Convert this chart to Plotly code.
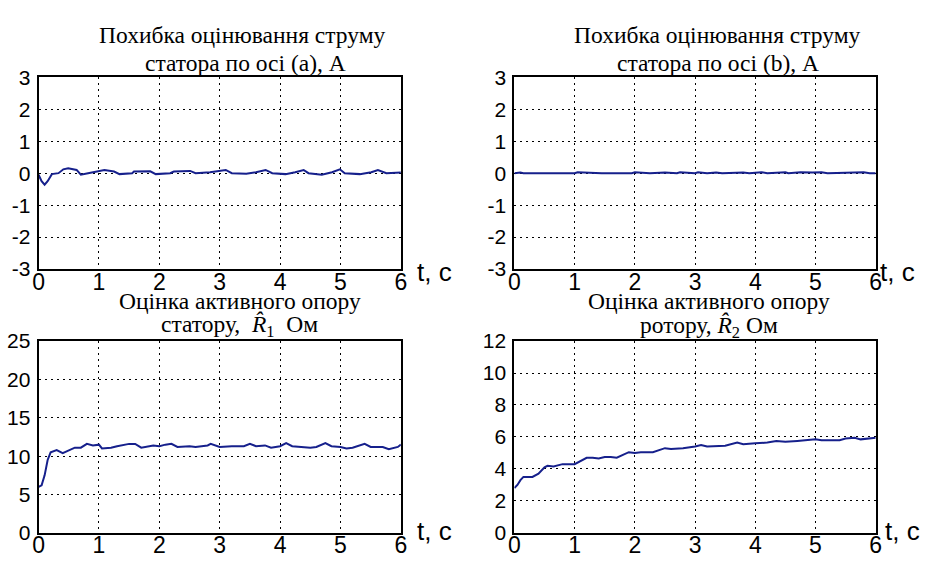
import plotly.graph_objects as go

# ---- data ----
t_a = [0, 0.05, 0.1, 0.15, 0.22, 0.33, 0.41, 0.49, 0.63, 0.7, 0.82, 0.98, 1.09, 1.25, 1.34,
       1.55, 1.58, 1.85, 1.94, 2.18, 2.24, 2.51, 2.6, 2.84, 3.1, 3.2, 3.44, 3.6, 3.76, 3.87,
       4.09, 4.25, 4.39, 4.47, 4.69, 4.86, 4.99, 5.07, 5.32, 5.51, 5.62, 5.76, 5.98, 6.0]
err_a = [-0.05, -0.25, -0.36, -0.25, -0.03, 0.0, 0.12, 0.15, 0.1, -0.05, 0.0, 0.07, 0.1, 0.05, -0.03,
         0.0, 0.05, 0.06, -0.03, 0.0, 0.05, 0.07, 0.0, 0.03, 0.1, 0.0, -0.02, 0.03, 0.1, 0.0,
         -0.03, 0.03, 0.1, 0.0, -0.05, 0.03, 0.12, 0.0, -0.03, 0.03, 0.1, 0.0, 0.02, 0.02]

t_b = [0, 0.1, 0.15, 0.7, 0.75, 1.0, 1.05, 1.2, 1.3, 1.45, 1.95, 2.0, 2.25, 2.5, 2.7, 2.75,
       3.0, 3.05, 3.2, 3.35, 3.45, 3.7, 3.8, 3.9, 4.1, 4.2, 4.5, 4.55, 4.75, 4.95, 5.1, 5.2, 5.8, 5.9, 6.0]
err_b = [0.0, 0.02, 0.0, 0.0, 0.02, 0.0, 0.03, 0.02, 0.03, 0.0, 0.0, 0.03, 0.0, 0.02, 0.0, 0.03,
         0.0, 0.03, 0.0, 0.02, 0.0, 0.03, 0.02, 0.0, 0.03, 0.0, 0.03, 0.0, 0.03, 0.02, 0.03, 0.0, 0.03, 0.0, 0.0]

t_r1 = [0, 0.05, 0.1, 0.15, 0.2, 0.3, 0.4, 0.5, 0.6, 0.7, 0.8, 0.9, 1.0, 1.05, 1.2, 1.3, 1.5, 1.6,
        1.7, 1.9, 2.0, 2.1, 2.2, 2.3, 2.5, 2.6, 2.8, 2.85, 3.0, 3.2, 3.4, 3.5, 3.6, 3.75, 3.85,
        4.0, 4.1, 4.2, 4.5, 4.6, 4.75, 4.85, 5.0, 5.1, 5.2, 5.4, 5.5, 5.7, 5.8, 5.95, 6.0]
r1_hat = [6.0, 6.2, 7.5, 9.5, 10.5, 10.8, 10.4, 10.8, 11.1, 11.1, 11.6, 11.4, 11.5, 11.0, 11.1, 11.3,
          11.6, 11.6, 11.1, 11.4, 11.3, 11.5, 11.6, 11.2, 11.3, 11.2, 11.4, 11.6, 11.2, 11.3, 11.3,
          11.6, 11.3, 11.4, 11.1, 11.3, 11.7, 11.3, 11.1, 11.2, 11.7, 11.3, 11.2, 11.0, 11.1, 11.6,
          11.2, 11.2, 10.9, 11.2, 11.5]

t_r2 = [0, 0.05, 0.1, 0.15, 0.3, 0.4, 0.5, 0.55, 0.65, 0.8, 1.0, 1.1, 1.2, 1.3, 1.4, 1.5, 1.6, 1.7,
        1.8, 1.9, 2.0, 2.1, 2.3, 2.4, 2.5, 2.6, 2.8, 3.0, 3.1, 3.2, 3.5, 3.7, 3.8, 4.0, 4.2, 4.35,
        4.5, 4.7, 4.85, 5.0, 5.1, 5.4, 5.5, 5.65, 5.75, 5.85, 6.0]
r2_hat = [2.8, 3.0, 3.3, 3.5, 3.5, 3.7, 4.1, 4.2, 4.15, 4.3, 4.3, 4.5, 4.7, 4.7, 4.65, 4.75, 4.75,
          4.7, 4.9, 5.05, 5.0, 5.05, 5.05, 5.2, 5.3, 5.25, 5.3, 5.4, 5.5, 5.4, 5.45, 5.65, 5.55,
          5.6, 5.65, 5.75, 5.7, 5.75, 5.8, 5.85, 5.8, 5.8, 5.9, 5.95, 5.85, 5.9, 5.95]

x_ticks = [0, 1, 2, 3, 4, 5, 6]
y_ticks_err = [-3, -2, -1, 0, 1, 2, 3]
y_labels_err = ["-3", "-2", "-1", "0", "1", "2", "3"]
y_ticks_r1 = [0, 5, 10, 15, 20, 25]
y_ticks_r2 = [0, 2, 4, 6, 8, 10, 12]

W, H = 936, 565
LINE = "#16208c"
SERIF = "Liberation Serif, Times New Roman, serif"
SANS = "Liberation Sans, Arial, sans-serif"

# panel pixel boxes (left, right, top, bottom)
boxes = [(33, 400, 68, 268), (515, 881, 68, 268), (33, 400, 343, 543), (515, 881, 343, 543)]
yticks = [(y_ticks_err, y_labels_err), (y_ticks_err, y_labels_err),
          (y_ticks_r1, [str(v) for v in y_ticks_r1]), (y_ticks_r2, [str(v) for v in y_ticks_r2])]
series = [(t_a, err_a), (t_b, err_b), (t_r1, r1_hat), (t_r2, r2_hat)]

fig = go.Figure()
layout = dict(width=W, height=H, margin=dict(l=0, r=0, t=0, b=0),
              paper_bgcolor="white", plot_bgcolor="white", showlegend=False)

for i, ((l, r, t, b), (tv, tt), (xs, ys)) in enumerate(zip(boxes, yticks, series)):
    n = "" if i == 0 else str(i + 1)
    fig.add_trace(go.Scatter(x=xs, y=ys, mode="lines", line=dict(color=LINE, width=2),
                             xaxis="x" + n, yaxis="y" + n))
    common = dict(showline=True, linecolor="black", linewidth=2, mirror=True,
                  showgrid=True, gridcolor="black", gridwidth=1.3, griddash="2px,4px",
                  zeroline=False, ticks="")
    layout["xaxis" + n] = dict(domain=[l / W, r / W], anchor="y" + n, range=[0, 6],
                               tickvals=x_ticks, tickfont=dict(family=SANS, size=23, color="black"),
                               ticklabelstandoff=-9, **common)
    layout["yaxis" + n] = dict(domain=[1 - b / H, 1 - t / H], anchor="x" + n, range=[tv[0], tv[-1]],
                               tickvals=tv, ticktext=tt,
                               tickfont=dict(family=SANS, size=21, color="black"),
                               ticklabelstandoff=2, **common)

fig.update_layout(**layout)

def ann(text, x, y, size, family=SERIF):
    fig.add_annotation(text=text, x=x / W, y=1 - y / H, xref="paper", yref="paper",
                       xanchor="center", yanchor="middle", showarrow=False,
                       font=dict(family=family, size=size, color="black"))

ann("Похибка оцінювання струму", 240, 24, 23.5)
ann("статора по осі (a), A", 243, 53, 23.5)
ann("Похибка оцінювання струму", 721, 24, 23.5)
ann("статора по осі (b), A", 721, 53, 23.5)
ann("Оцінка активного опору", 237, 301, 23.5)
ann("статору,  <i>R̂</i><sub>1</sub>  Ом", 237, 327, 23.5)
ann("Оцінка активного опору", 712, 301, 23.5)
ann("ротору, <i>R̂</i><sub>2</sub> Ом", 712, 328, 23.5)

for x, y in [(434, 271), (903, 271), (434, 541), (908, 541)]:
    ann("t, c", x, y, 26, SANS)

fig.write_html("out.html")
